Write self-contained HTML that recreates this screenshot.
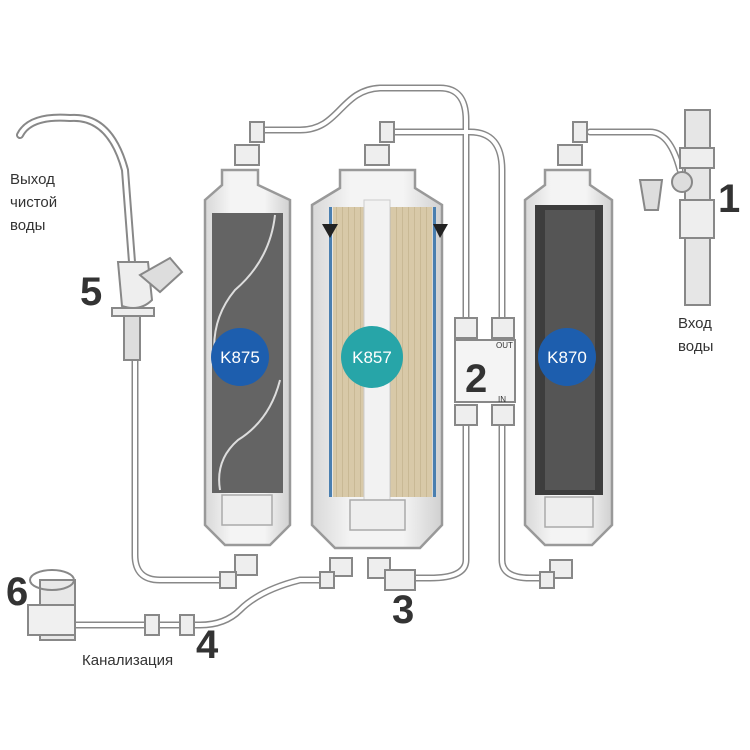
<!DOCTYPE html>
<html><head><meta charset="utf-8"><style>
html,body{margin:0;padding:0;background:#fff}
svg{display:block}
text{font-family:"Liberation Sans","Noto Sans CJK SC",sans-serif}
</style></head><body>
<svg width="750" height="750" viewBox="0 0 750 750" xmlns="http://www.w3.org/2000/svg">
<defs>
<linearGradient id="hous" x1="0" x2="1"><stop offset="0" stop-color="#d8d8d8"/><stop offset="0.3" stop-color="#f4f4f4"/><stop offset="0.7" stop-color="#f4f4f4"/><stop offset="1" stop-color="#d0d0d0"/></linearGradient>
<pattern id="beige" width="6" height="10" patternUnits="userSpaceOnUse"><rect width="6" height="10" fill="#d8c9a8"/><rect width="1" height="10" fill="#c9b995"/></pattern>
</defs>
<g fill="none" stroke="#888" stroke-width="7" stroke-linecap="round">
<path d="M265 130 H300 C340 130 340 90 380 88 H440 Q466 88 466 120 V320"/>
<path d="M395 132 H470 Q502 132 502 170 V320"/>
<path d="M466 420 V560 Q466 578 430 578 H400"/>
<path d="M502 420 V560 Q502 578 530 578 H548"/>
<path d="M590 132 H650 Q670 132 680 170"/>
<path d="M220 580 H160 Q135 580 135 555 V360"/>
<path d="M325 580 H300 Q260 590 240 610 Q225 625 200 625 H70"/>
</g>
<g fill="none" stroke="#fff" stroke-width="4" stroke-linecap="round">
<path d="M265 130 H300 C340 130 340 90 380 88 H440 Q466 88 466 120 V320"/>
<path d="M395 132 H470 Q502 132 502 170 V320"/>
<path d="M466 420 V560 Q466 578 430 578 H400"/>
<path d="M502 420 V560 Q502 578 530 578 H548"/>
<path d="M590 132 H650 Q670 132 680 170"/>
<path d="M220 580 H160 Q135 580 135 555 V360"/>
<path d="M325 580 H300 Q260 590 240 610 Q225 625 200 625 H70"/>
</g>
<path d="M20 135 Q30 115 70 118 Q110 115 125 170 L132 262" fill="none" stroke="#888" stroke-width="8" stroke-linecap="round"/>
<path d="M20 135 Q30 115 70 118 Q110 115 125 170 L132 262" fill="none" stroke="#fff" stroke-width="4" stroke-linecap="round"/>
<path d="M118 262 H148 L152 300 Q140 312 122 306 Z" fill="#eee" stroke="#888" stroke-width="2"/>
<path d="M140 275 L170 258 L182 272 L160 292 Z" fill="#ddd" stroke="#888" stroke-width="2"/>
<rect x="112" y="308" width="42" height="8" fill="#eee" stroke="#888" stroke-width="2"/>
<rect x="124" y="316" width="16" height="44" fill="#ddd" stroke="#888" stroke-width="2"/>
<g stroke="#999" stroke-width="2.5">
<path d="M205 200 L222 185 V170 H258 V185 L290 200 V525 L270 545 H225 L205 525 Z" fill="url(#hous)"/>
<path d="M312 205 L340 188 V170 H415 V188 L442 205 V525 L420 548 H335 L312 525 Z" fill="url(#hous)"/>
<path d="M525 200 L545 185 V170 H590 V185 L612 200 V525 L592 545 H545 L525 525 Z" fill="url(#hous)"/>
</g>
<rect x="212" y="213" width="71" height="280" fill="#646464"/>
<path d="M275 215 Q270 260 235 290 Q210 320 215 360 M280 380 Q270 420 238 440 Q215 460 220 490" stroke="#ddd" stroke-width="2" fill="none"/>
<rect x="333" y="207" width="99" height="290" fill="url(#beige)"/>
<rect x="329" y="207" width="3" height="290" fill="#4a7fb0"/>
<rect x="433" y="207" width="3" height="290" fill="#4a7fb0"/>
<rect x="364" y="200" width="26" height="300" fill="#f2f2f2" stroke="#ccc"/>
<path d="M322 224 H338 L330 238 Z M433 224 H448 L440 238 Z" fill="#222"/>
<rect x="535" y="205" width="68" height="290" fill="#3d3d3d"/>
<rect x="545" y="210" width="50" height="280" fill="#555"/>
<g fill="#eee" stroke="#aaa" stroke-width="1.5">
<rect x="222" y="495" width="50" height="30"/><rect x="350" y="500" width="55" height="30"/><rect x="545" y="497" width="48" height="30"/>
</g>
<g fill="#eee" stroke="#888" stroke-width="2">
<rect x="235" y="145" width="24" height="20"/><rect x="250" y="122" width="14" height="20"/>
<rect x="365" y="145" width="24" height="20"/><rect x="380" y="122" width="14" height="20"/>
<rect x="558" y="145" width="24" height="20"/><rect x="573" y="122" width="14" height="20"/>
<rect x="235" y="555" width="22" height="20"/><rect x="220" y="572" width="16" height="16"/>
<rect x="330" y="558" width="22" height="18"/><rect x="320" y="572" width="14" height="16"/>
<rect x="368" y="558" width="22" height="20"/><rect x="385" y="570" width="30" height="20"/>
<rect x="550" y="560" width="22" height="18"/><rect x="540" y="572" width="14" height="16"/>
<rect x="455" y="318" width="22" height="20"/><rect x="492" y="318" width="22" height="20"/>
<rect x="455" y="405" width="22" height="20"/><rect x="492" y="405" width="22" height="20"/>
<rect x="455" y="340" width="60" height="62" fill="#f4f4f4"/>
<rect x="145" y="615" width="14" height="20"/><rect x="180" y="615" width="14" height="20"/>
<rect x="685" y="110" width="25" height="195" fill="#e6e6e6"/>
<rect x="680" y="148" width="34" height="20"/><rect x="680" y="200" width="34" height="38"/>
<circle cx="682" cy="182" r="10" fill="#ddd"/>
<path d="M640 180 H662 L658 210 H645 Z" fill="#ddd"/>
<path d="M40 580 H75 V640 H40 Z" fill="#e8e8e8"/>
<ellipse cx="52" cy="580" rx="22" ry="10" fill="none"/>
<path d="M28 605 H75 V635 H28 Z" fill="#f0f0f0"/>
</g>
<circle cx="240" cy="357" r="29" fill="#1d5eae"/>
<circle cx="372" cy="357" r="31" fill="#27a5a8"/>
<circle cx="567" cy="357" r="29" fill="#1d5eae"/>
<g fill="#fff" font-size="17" text-anchor="middle">
<text x="240" y="363">K875</text><text x="372" y="363">K857</text><text x="567" y="363">K870</text>
</g>
<text x="496" y="348" font-size="8" fill="#333">OUT</text>
<text x="498" y="402" font-size="8" fill="#333">IN</text>
<g font-size="40" font-weight="bold" fill="#333">
<text x="718" y="212">1</text><text x="465" y="392">2</text><text x="392" y="623">3</text>
<text x="196" y="658">4</text><text x="80" y="305">5</text><text x="6" y="605">6</text>
</g>
<g font-size="15" fill="#333">
<text x="10" y="184">Выход</text><text x="10" y="207">чистой</text><text x="10" y="230">воды</text>
<text x="678" y="328">Вход</text><text x="678" y="351">воды</text>
<text x="82" y="665">Канализация</text>
</g>
</svg>
</body></html>
